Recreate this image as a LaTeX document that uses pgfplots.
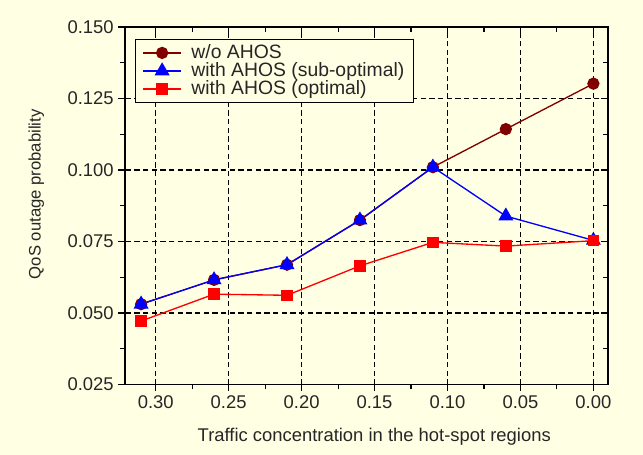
\documentclass[border=0pt]{standalone}
\usepackage{fontspec}
\setmainfont{Liberation Sans}
\usepackage{pgfplots}
\pgfplotsset{compat=1.18}
\definecolor{bgc}{RGB}{255,255,228}
\definecolor{brownc}{RGB}{128,0,0}
\begin{document}
\begin{tikzpicture}
\path[use as bounding box] (-93.75pt,-52.5pt) rectangle (388.25pt,288.25pt);
\fill[bgc] (-93.75pt,-52.5pt) rectangle (388.25pt,288.25pt);
\begin{axis}[
  scale only axis, width=362pt, height=268pt,
  x dir=reverse,
  xmin=-0.01, xmax=0.321,
  ymin=0.025, ymax=0.150,
  xtick={0,0.05,0.10,0.15,0.20,0.25,0.30},
  ytick={0.025,0.050,0.075,0.100,0.125,0.150},
  minor x tick num=1, minor y tick num=1,
  xtick pos=left, ytick pos=left,
  tick align=outside,
  major tick length=5pt, minor tick length=3.5pt,
  tick style={black, line width=0.8pt},
  axis line style={black, line width=0.9pt},
  grid=major,
  major grid style={black, line width=1pt, dash pattern=on 4pt off 2.5pt},
  axis background/.style={fill=bgc},
  /pgf/number format/assume math mode=true,
  xticklabel style={/pgf/number format/fixed, /pgf/number format/fixed zerofill, /pgf/number format/precision=2},
  yticklabel style={/pgf/number format/fixed, /pgf/number format/fixed zerofill, /pgf/number format/precision=3},
  scaled x ticks=false, scaled y ticks=false,
  ticklabel style={font=\fontsize{13.8}{16}\selectfont, text=black!85},
  xlabel={Traffic concentration in the hot-spot regions},
  ylabel={QoS outage probability},
  xlabel style={font=\fontsize{13.8}{16}\selectfont, at={(axis description cs:0.516,-0.146)}, anchor=center, text=black!85},
  ylabel style={font=\fontsize{12.5}{14}\selectfont, at={(axis description cs:-0.184,0.532)}, anchor=center, rotate=0, text=black!85},
  legend style={at={(axis description cs:0.0207,0.966)}, anchor=north west, draw=black, line width=0.6pt, fill=bgc,
    font=\fontsize{14.5}{17}\selectfont, inner xsep=5pt, inner ysep=2pt, row sep=-2.5pt, cells={anchor=west}, text=black!85},
  legend image code/.code={\draw[#1, mark repeat=2, mark phase=2] plot coordinates {(0pt,0pt) (14.5pt,0pt) (29pt,0pt)};
    \path (34pt,0pt);},
  legend cell align=left,
]
\addplot[brownc, line width=1pt, mark=*, mark size=4.1pt, mark options={solid, fill=brownc, draw=brownc}] coordinates {
 (0.31,0.0531) (0.26,0.0616) (0.21,0.0669) (0.16,0.0825) (0.11,0.1010) (0.06,0.1143) (0.00,0.1302)};
\addlegendentry{w/o AHOS}
\addplot[blue, line width=1pt, mark=triangle*, mark size=5.5pt, mark options={solid, fill=blue, draw=blue}] coordinates {
 (0.31,0.0531) (0.26,0.0616) (0.21,0.0669) (0.16,0.0825) (0.11,0.1010) (0.06,0.0839) (0.00,0.0754)};
\addlegendentry{with AHOS (sub-optimal)}
\addplot[red, line width=1pt, mark=square*, mark size=3.75pt, mark options={solid, fill=red, draw=red}] coordinates {
 (0.31,0.0472) (0.26,0.0566) (0.21,0.0562) (0.16,0.0665) (0.11,0.0747) (0.06,0.0734) (0.00,0.0753)};
\addlegendentry{with AHOS (optimal)}
\end{axis}
\begin{axis}[
  scale only axis, width=362pt, height=268pt,
  x dir=reverse,
  xmin=-0.01, xmax=0.321,
  ymin=0.025, ymax=0.150,
  xtick={0,0.05,0.10,0.15,0.20,0.25,0.30},
  ytick={0.025,0.050,0.075,0.100,0.125,0.150},
  minor x tick num=1, minor y tick num=1,
  xtick pos=right, ytick pos=right,
  tick align=inside,
  major tick length=5pt, minor tick length=3.5pt,
  tick style={black, line width=0.8pt},
  axis line style={black, line width=0.9pt},
  xticklabels={}, yticklabels={},
]
\end{axis}
\end{tikzpicture}
\end{document}
